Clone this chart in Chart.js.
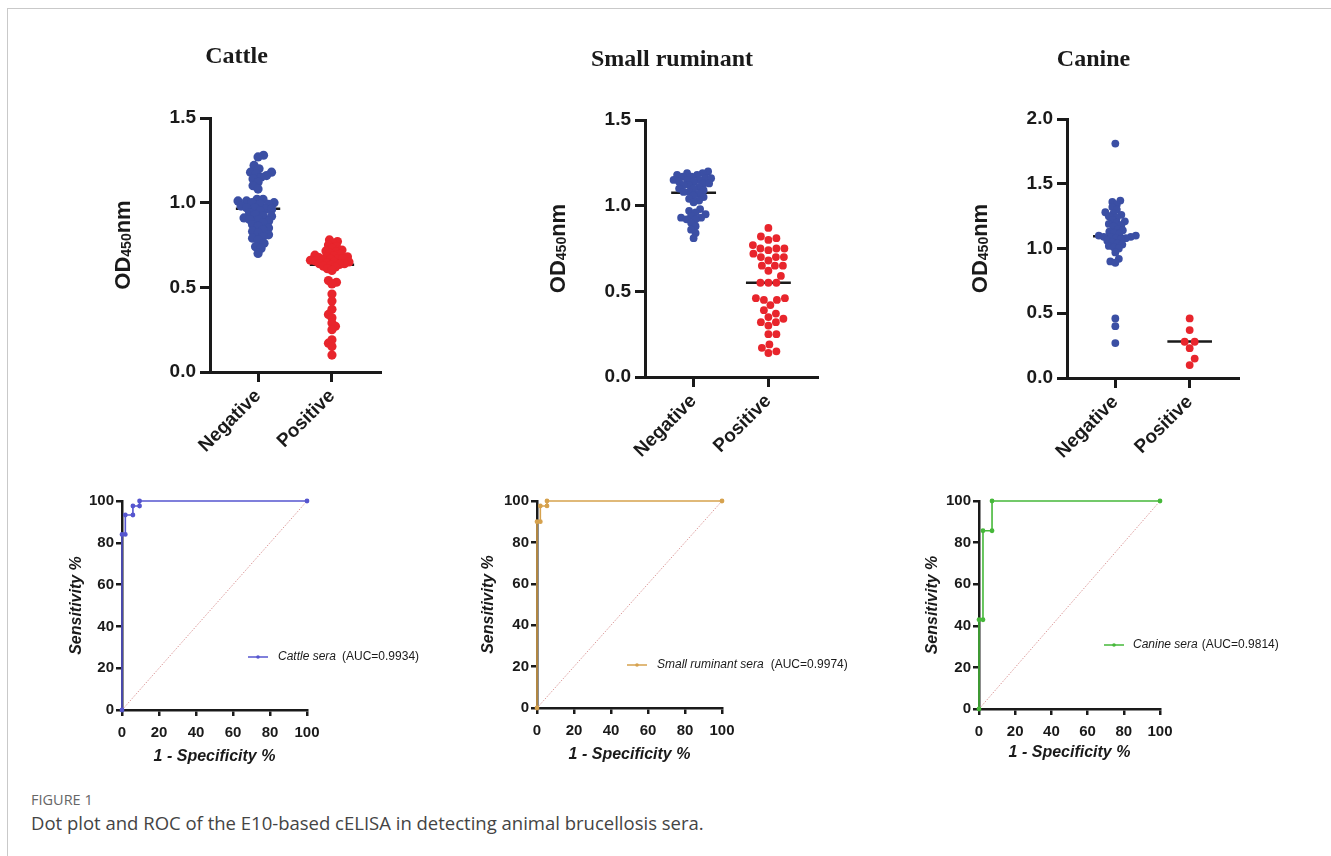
<!DOCTYPE html>
<html>
<head>
<meta charset="utf-8">
<title>Figure 1</title>
<script src="https://cdn.jsdelivr.net/npm/chart.js@4.4.1/dist/chart.umd.min.js"></script>
<style>
    body { margin: 0; width: 1331px; height: 856px; position: relative; overflow: hidden; background: #fff; }
    #frame { position: absolute; left: 7px; top: 8px; right: 0; bottom: 0; border-left: 1px solid #c9c9c9; border-top: 1px solid #c9c9c9; }
    canvas { position: absolute; }
    .fig-no { position: absolute; left: 31px; top: 790px; font: 14.5px "Open Sans", sans-serif; color: #666; }
    .fig-text { position: absolute; left: 31px; top: 810px; font: 18.5px "Open Sans", sans-serif; color: #444; }
</style>
</head>
<body>
<div id="frame"></div>
<div class="fig-no">FIGURE 1</div>
<div class="fig-text">Dot plot and ROC of the E10-based cELISA in detecting animal brucellosis sera.</div>
<script>
// ---- dot plots: OD450nm per serum ----
var groups = ['Negative', 'Positive'];
var panelTitles = ['Cattle', 'Small ruminant', 'Canine'];
var yTitleParts = ['OD', '450', 'nm'];

var cattleNeg = [1.28, 1.27, 1.22, 1.20, 1.18, 1.18, 1.17, 1.16, 1.15, 1.14, 1.12, 1.10, 1.08,
    1.02, 1.02, 1.01, 1.01, 1.00, 1.00, 0.99, 0.99, 0.98, 0.97, 0.97, 0.96, 0.96, 0.95, 0.94, 0.93,
    0.92, 0.92, 0.91, 0.90, 0.90, 0.89, 0.88, 0.87, 0.86, 0.85, 0.84, 0.83, 0.82, 0.81, 0.80, 0.79,
    0.78, 0.76, 0.74, 0.73, 0.70];
var cattlePos = [0.78, 0.77, 0.76, 0.75, 0.74, 0.73, 0.72, 0.715, 0.71, 0.70, 0.695, 0.69, 0.685,
    0.68, 0.68, 0.675, 0.67, 0.67, 0.665, 0.66, 0.66, 0.655, 0.65, 0.65, 0.645, 0.64, 0.64, 0.635,
    0.63, 0.625, 0.62, 0.61, 0.60, 0.54, 0.53, 0.52, 0.46, 0.42, 0.37, 0.34, 0.32, 0.29, 0.27, 0.25,
    0.19, 0.17, 0.15, 0.10];
var cattleLines = [0.964, 0.634];

var ruminantNeg = [1.20, 1.19, 1.19, 1.18, 1.18, 1.17, 1.17, 1.16, 1.16, 1.15, 1.15, 1.15, 1.14,
    1.14, 1.13, 1.13, 1.12, 1.12, 1.11, 1.10, 1.10, 1.09, 1.08, 1.08, 1.07, 1.06, 1.05, 1.04, 1.03,
    1.02, 0.98, 0.97, 0.96, 0.95, 0.94, 0.93, 0.93, 0.92, 0.92, 0.90, 0.88, 0.86, 0.84, 0.81];
var ruminantPos = [0.87, 0.82, 0.81, 0.80, 0.77, 0.75, 0.75, 0.75, 0.74, 0.72, 0.70, 0.70, 0.70,
    0.68, 0.65, 0.65, 0.65, 0.62, 0.59, 0.55, 0.55, 0.55, 0.46, 0.46, 0.45, 0.45, 0.42, 0.39, 0.37,
    0.35, 0.34, 0.32, 0.32, 0.30, 0.25, 0.25, 0.19, 0.17, 0.15, 0.14];
var ruminantLines = [1.075, 0.55];

var canineNeg = [1.81, 1.37, 1.36, 1.34, 1.32, 1.30, 1.28, 1.27, 1.26, 1.25, 1.24, 1.22, 1.21,
    1.20, 1.19, 1.18, 1.17, 1.15, 1.14, 1.13, 1.12, 1.11, 1.10, 1.10, 1.09, 1.09, 1.09, 1.08, 1.08,
    1.07, 1.06, 1.05, 1.04, 1.03, 1.02, 1.01, 1.00, 0.97, 0.92, 0.90, 0.89, 0.46, 0.40, 0.27];
var caninePos = [0.46, 0.37, 0.28, 0.28, 0.23, 0.15, 0.10];
var canineLines = [1.095, 0.281];

var dotYMax = [1.5, 1.5, 2.0];

// ---- ROC curves (%) ----
var rocLabels = ['Cattle sera', 'Small ruminant sera', 'Canine sera'];
var rocAuc = ['(AUC=0.9934)', '(AUC=0.9974)', '(AUC=0.9814)'];
var cattleFpr = [0, 0, 1.8, 1.8, 5.9, 5.9, 9.5, 9.5, 100];
var cattleTpr = [0, 84, 84, 93.3, 93.3, 97.6, 97.6, 100, 100];
var ruminantFpr = [0, 0, 1.8, 1.8, 5.4, 5.4, 100];
var ruminantTpr = [0, 90, 90, 97.6, 97.6, 100, 100];
var canineFpr = [0, 0, 2.2, 2.2, 7.2, 7.2, 100];
var canineTpr = [0, 42.9, 42.9, 85.7, 85.7, 100, 100];
var chanceLine = [0, 100];

var FONT = '"Liberation Sans", Arial, sans-serif';
var INK = '#1a1a1a';

Chart.defaults.font.family = FONT;
Chart.defaults.color = INK;
Chart.defaults.animation = false;

function makeCanvas(box) {
    var c = document.createElement('canvas');
    c.width = box.w;
    c.height = box.h;
    c.style.left = box.x + 'px';
    c.style.top = box.y + 'px';
    document.body.appendChild(c);
    return c;
}

// OD with small 450, rotated, left of the plot
var odTitlePlugin = {
    id: 'odTitle',
    afterDraw: function (chart, args, opts) {
        var ctx = chart.ctx, a = chart.chartArea;
        var sizes = [22, 14, 22];
        var widths = [], total = 0;
        ctx.save();
        ctx.translate(a.left - opts.offset, (a.top + a.bottom) / 2);
        ctx.rotate(-Math.PI / 2);
        ctx.fillStyle = INK;
        ctx.textBaseline = 'alphabetic';
        yTitleParts.forEach(function (t, i) {
            ctx.font = 'bold ' + sizes[i] + 'px ' + FONT;
            widths[i] = ctx.measureText(t).width;
            total += widths[i];
        });
        var x = -total / 2;
        yTitleParts.forEach(function (t, i) {
            ctx.font = 'bold ' + sizes[i] + 'px ' + FONT;
            ctx.fillText(t, x, 8 + (i === 1 ? 1 : 0));
            x += widths[i];
        });
        ctx.restore();
    }
};

var rocLegendPlugin = {
    id: 'rocLegend',
    afterDraw: function (chart, args, o) {
        var ctx = chart.ctx;
        ctx.save();
        ctx.strokeStyle = o.color;
        ctx.fillStyle = o.color;
        ctx.lineWidth = 1.5;
        ctx.beginPath();
        ctx.moveTo(o.lineX, o.y);
        ctx.lineTo(o.lineX + 20, o.y);
        ctx.stroke();
        ctx.beginPath();
        ctx.arc(o.lineX + 10, o.y, 1.8, 0, Math.PI * 2);
        ctx.fill();
        ctx.fillStyle = INK;
        ctx.textBaseline = 'middle';
        ctx.font = 'italic 12px ' + FONT;
        ctx.fillText(o.label, o.textX, o.y);
        var w = ctx.measureText(o.label).width;
        ctx.font = '12px ' + FONT;
        ctx.fillText(o.auc, o.textX + w + o.gap, o.y);
        ctx.restore();
    }
};

// simple beeswarm: push each dot sideways until it no longer hits the placed ones
function swarm(vals, yScale, gap) {
    var order = vals.map(function (v, i) { return i; })
        .sort(function (a, b) { return vals[a] - vals[b]; });
    var placed = [], off = [];
    order.forEach(function (i) {
        var py = yScale.getPixelForValue(vals[i]);
        var found = null;
        for (var s = 0; s < 200 && found === null; s += 0.5) {
            var tries = (placed.length % 2) ? [s, -s] : [-s, s];
            for (var k = 0; k < 2; k++) {
                var dx = tries[k];
                var hit = placed.some(function (p) {
                    var ddx = p.dx - dx, ddy = p.py - py;
                    return ddx * ddx + ddy * ddy < gap * gap;
                });
                if (!hit) { found = dx; break; }
            }
        }
        placed.push({ dx: found, py: py });
        off[i] = found;
    });
    return off;
}

function axisStyle(width, tick) {
    return {
        grid: { drawOnChartArea: false, tickLength: tick, lineWidth: width, color: INK },
        border: { width: width, color: INK }
    };
}

function DotPlot(box, title, neg, pos, lines, yMax, dot) {
    var canvas = makeCanvas(box);
    var sets = [neg, pos];
    var colors = ['#3b4fa4', '#e8252c'];
    var datasets = sets.map(function (vals, g) {
        return {
            data: vals.map(function (v) { return { x: g + 1, y: v }; }),
            backgroundColor: colors[g],
            borderWidth: 0,
            pointRadius: dot.r,
            pointHoverRadius: dot.r
        };
    });
    lines.forEach(function (m, g) {
        datasets.push({
            data: [{ x: g + 0.7, y: m }, { x: g + 1.3, y: m }],
            showLine: true,
            borderColor: INK,
            borderWidth: 2.5,
            pointRadius: 0
        });
    });
    var titleTop = box.titleY - box.y - 14.4;
    var ax = axisStyle(3, 10);
    var chart = new Chart(canvas, {
        type: 'scatter',
        data: { datasets: datasets },
        options: {
            responsive: false,
            devicePixelRatio: 1,
            layout: { padding: { right: box.x + box.w - box.plot.r } },
            plugins: {
                legend: { display: false },
                tooltip: { enabled: false },
                title: {
                    display: true,
                    text: title,
                    color: INK,
                    font: { family: '"Liberation Serif", "Times New Roman", serif', size: 24, weight: 'bold' },
                    padding: { top: titleTop, bottom: box.plot.t - box.y - titleTop - 28.8 }
                },
                odTitle: { offset: 88 }
            },
            scales: {
                x: {
                    type: 'linear',
                    min: 0.35,
                    max: 2.65,
                    afterBuildTicks: function (s) { s.ticks = [{ value: 1 }, { value: 2 }]; },
                    afterFit: function (s) { s.height = box.y + box.h - box.plot.b; },
                    ticks: {
                        callback: function (v) { return groups[v - 1]; },
                        minRotation: 45,
                        maxRotation: 45,
                        autoSkip: false,
                        padding: 3,
                        color: INK,
                        font: { size: 19, weight: 'bold' }
                    },
                    grid: ax.grid,
                    border: ax.border
                },
                y: {
                    min: 0,
                    max: yMax,
                    afterFit: function (s) { s.width = box.plot.l - box.x; },
                    ticks: {
                        stepSize: 0.5,
                        callback: function (v) { return v.toFixed(1); },
                        padding: 4,
                        color: INK,
                        font: { size: 19, weight: 'bold' }
                    },
                    grid: ax.grid,
                    border: ax.border
                }
            }
        },
        plugins: [odTitlePlugin]
    });

    var xs = chart.scales.x, ys = chart.scales.y;
    var unit = xs.getPixelForValue(2) - xs.getPixelForValue(1);
    sets.forEach(function (vals, g) {
        var off = swarm(vals, ys, dot.gap[g]);
        chart.data.datasets[g].data = vals.map(function (v, i) {
            return { x: g + 1 + off[i] / unit, y: v };
        });
    });
    chart.update('none');
}

function RocPlot(box, fpr, tpr, color, label, auc, leg) {
    var canvas = makeCanvas(box);
    var ax = axisStyle(2.5, 6);
    var titleFont = { size: 16, weight: 'bold', style: 'italic' };
    new Chart(canvas, {
        type: 'scatter',
        data: {
            datasets: [{
                data: fpr.map(function (x, i) { return { x: x, y: tpr[i] }; }),
                showLine: true,
                borderColor: color,
                backgroundColor: color,
                borderWidth: 1.6,
                pointRadius: 1.6,
                clip: false
            }, {
                data: chanceLine.map(function (v) { return { x: v, y: v }; }),
                showLine: true,
                borderColor: '#dc9a9a',
                borderWidth: 1,
                borderDash: [1.5, 1.5],
                pointRadius: 0
            }]
        },
        options: {
            responsive: false,
            devicePixelRatio: 1,
            layout: { padding: { top: box.plot.t - box.y, right: box.x + box.w - box.plot.r } },
            plugins: {
                legend: { display: false },
                tooltip: { enabled: false },
                rocLegend: {
                    color: color, label: label, auc: auc, gap: leg.gap,
                    lineX: leg.lineX - box.x, textX: leg.textX - box.x, y: leg.y - box.y
                }
            },
            scales: {
                x: {
                    min: 0, max: 100,
                    afterFit: function (s) { s.height = box.y + box.h - box.plot.b; },
                    ticks: { stepSize: 20, padding: 8, color: INK, font: { size: 15, weight: 'bold' } },
                    title: { display: true, text: '1 - Specificity %', color: INK, font: titleFont, padding: { top: 0, bottom: box.y + box.h - box.xTitleY - 9.6 } },
                    grid: ax.grid,
                    border: ax.border
                },
                y: {
                    min: 0, max: 100,
                    afterFit: function (s) { s.width = box.plot.l - box.x; },
                    ticks: { stepSize: 20, padding: 2, color: INK, font: { size: 15, weight: 'bold' } },
                    title: { display: true, text: 'Sensitivity %', color: INK, font: titleFont, padding: { top: box.yTitleX - box.x - 9.6, bottom: 0 } },
                    grid: ax.grid,
                    border: ax.border
                }
            }
        },
        plugins: [rocLegendPlugin]
    });
}

// panel boxes in page pixels
DotPlot({ x: 93, y: 20, w: 300, h: 440, titleY: 57, plot: { l: 210, r: 380, t: 118, b: 372 } },
    panelTitles[0], cattleNeg, cattlePos, cattleLines, dotYMax[0], { r: 4.6, gap: [5.7, 4.6] });
DotPlot({ x: 527, y: 20, w: 300, h: 440, titleY: 60, plot: { l: 645, r: 817, t: 120, b: 377 } },
    panelTitles[1], ruminantNeg, ruminantPos, ruminantLines, dotYMax[1], { r: 3.9, gap: [5.4, 8] });
DotPlot({ x: 949, y: 20, w: 300, h: 440, titleY: 60, plot: { l: 1067, r: 1238, t: 119, b: 378 } },
    panelTitles[2], canineNeg, caninePos, canineLines, dotYMax[2], { r: 3.9, gap: [5, 8] });

RocPlot({ x: 55, y: 485, w: 380, h: 290, yTitleX: 77, xTitleY: 757, plot: { l: 122, r: 307, t: 501, b: 710 } },
    cattleFpr, cattleTpr, '#5656cf', rocLabels[0], rocAuc[0], { lineX: 248, textX: 278, y: 657, gap: 6 });
RocPlot({ x: 470, y: 485, w: 400, h: 290, yTitleX: 489, xTitleY: 755, plot: { l: 537, r: 722, t: 501, b: 708 } },
    ruminantFpr, ruminantTpr, '#d6a24e', rocLabels[1], rocAuc[1], { lineX: 627, textX: 657, y: 665, gap: 7 });
RocPlot({ x: 912, y: 485, w: 380, h: 290, yTitleX: 933, xTitleY: 753, plot: { l: 979, r: 1160, t: 501, b: 709 } },
    canineFpr, canineTpr, '#46b83a', rocLabels[2], rocAuc[2], { lineX: 1104, textX: 1133, y: 645, gap: 4 });
</script>
</body>
</html>
